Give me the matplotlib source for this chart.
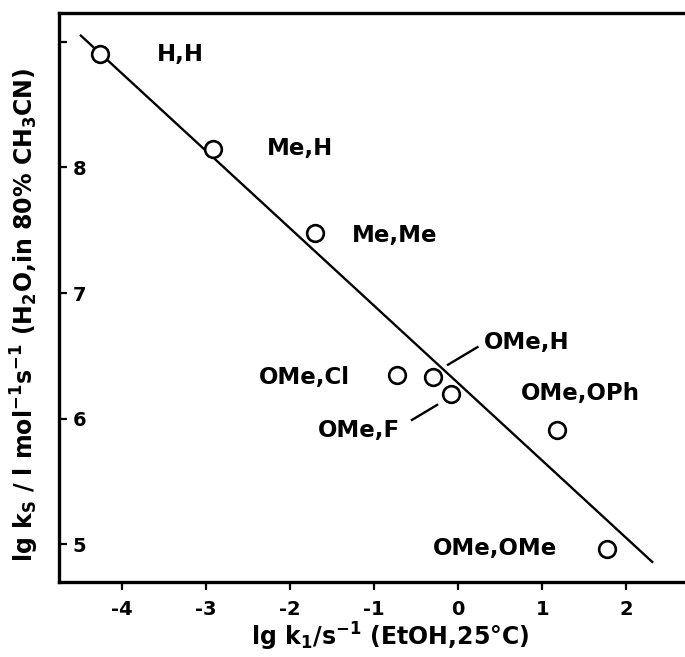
import numpy as np
import matplotlib
matplotlib.use('Agg')
import matplotlib.pyplot as plt

plt.rcParams['font.family'] = ['DejaVu Sans']
plt.rcParams['mathtext.default'] = 'regular'

# substituents and rate constants
subst = ['H,H', 'Me,H', 'Me,Me', 'OMe,Cl', 'OMe,H', 'OMe,F', 'OMe,OPh', 'OMe,OMe']
lg_k1 = [-4.26, -2.92, -1.70, -0.73, -0.30, -0.08, 1.18, 1.77]
lg_ks = [8.90, 8.15, 7.48, 6.35, 6.33, 6.20, 5.91, 4.96]

# correlation line end points
fit_x = [-4.49, 2.31]
fit_y = [9.05, 4.86]

# where the labels sit (data coords)
label_pos = [(-3.30, 8.90), (-1.88, 8.15), (-0.76, 7.46), (-1.83, 6.33),
             (0.82, 6.61), (-1.18, 5.91), (1.45, 6.20), (0.44, 4.97)]
leaders = {'OMe,H': ([-0.12, 0.23], [6.43, 6.57]),
           'OMe,F': ([-0.55, -0.25], [5.99, 6.11])}

xticks = [-4, -3, -2, -1, 0, 1, 2]
yticks = [5, 6, 7, 8, 9]
ytick_labels = ['5', '6', '7', '8', '']

fig = plt.figure(figsize=(6.85, 6.57), dpi=100)
ax = fig.add_axes([59/685, 75/657, 626/685, 569/657])

ax.plot(fit_x, fit_y, color='black', lw=1.7, zorder=2)
ax.plot(lg_k1, lg_ks, 'o', ms=12, mfc='white', mec='black', mew=1.9, zorder=3)

for name, (tx, ty) in zip(subst, label_pos):
    ax.text(tx, ty, name, ha='center', va='center', fontsize=16.5, fontweight='bold')
for name, (lx, ly) in leaders.items():
    ax.plot(lx, ly, color='black', lw=1.7)

ax.set_xlim(-4.75, 2.70)
ax.set_ylim(4.70, 9.23)
ax.set_xticks(xticks)
ax.set_xticklabels(['-4', '-3', '-2', '-1', '0', '1', '2'], fontsize=14, fontweight='bold')
ax.set_yticks(yticks)
ax.set_yticklabels(ytick_labels, fontsize=14, fontweight='bold')
for lab in ax.get_yticklabels():
    lab.set_horizontalalignment('left')

ax.tick_params(axis='x', direction='out', length=6, width=1.6, pad=7)
ax.tick_params(axis='y', direction='in', length=6, width=1.6, pad=-10)
for s in ['left', 'top', 'bottom']:
    ax.spines[s].set_linewidth(2.4)
ax.spines['right'].set_visible(False)

fig.text(390/685, 1 - 637/657, r'lg k$_1$/s$^{-1}$ (EtOH,25°C)', ha='center', va='center',
         fontsize=17, fontweight='bold')
fig.text(25/685, 1 - 315/657, r'lg k$_S$ / l mol$^{-1}$s$^{-1}$ (H$_2$O,in 80% CH$_3$CN)',
         ha='center', va='center', rotation=90, fontsize=17, fontweight='bold')

fig.savefig('out.png', dpi=100)
